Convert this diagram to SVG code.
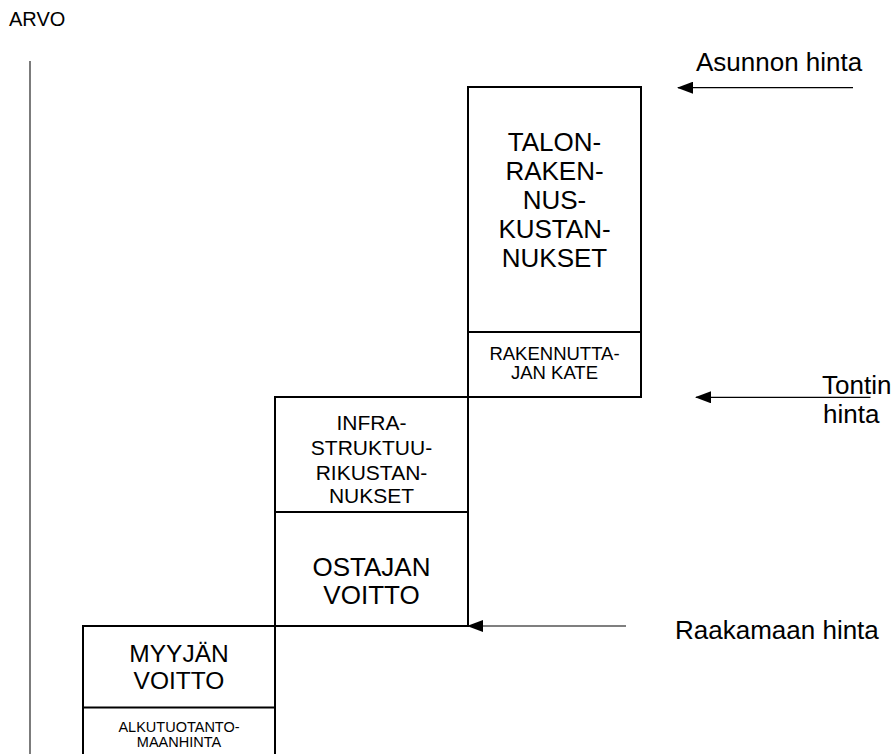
<svg xmlns="http://www.w3.org/2000/svg" width="896" height="754" viewBox="0 0 896 754">
<defs>
<style>
.box{fill:#fff;stroke:#000;stroke-width:2}
.div{stroke:#000;stroke-width:2}
.t{font-family:"Liberation Sans",Arial,sans-serif;fill:#000}
.c{text-anchor:middle}
.arr{stroke:#000;stroke-width:1.2;fill:none}
</style>
<marker id="ah" viewBox="0 0 16 12" refX="15" refY="6" markerWidth="16" markerHeight="12" markerUnits="userSpaceOnUse" orient="auto">
<path d="M0,0 L16,6 L0,12 Z" fill="#000"/>
</marker>
</defs>
<rect width="896" height="754" fill="#fff"/>
<g id="axis">
<line x1="30" y1="61" x2="30" y2="754" stroke="#444" stroke-width="1.4"/>
<text class="t" x="9" y="26" font-size="20">ARVO</text>
</g>
<g id="box-talo">
<rect class="box" x="468" y="87" width="173" height="310"/>
<line class="div" x1="468" y1="332" x2="641" y2="332"/>
<text class="t c" font-size="26"><tspan x="554.5" y="151">TALON-</tspan><tspan x="554.5" y="180">RAKEN-</tspan><tspan x="554.5" y="209">NUS-</tspan><tspan x="554.5" y="238">KUSTAN-</tspan><tspan x="554.5" y="267">NUKSET</tspan></text>
<text class="t c" font-size="18.5"><tspan x="554.5" y="359.5">RAKENNUTTA-</tspan><tspan x="554.5" y="378.7">JAN KATE</tspan></text>
</g>
<g id="box-infra">
<rect class="box" x="275" y="397" width="193" height="229"/>
<line class="div" x1="275" y1="512" x2="468" y2="512"/>
<text class="t c" font-size="21"><tspan x="371.5" y="429.5">INFRA-</tspan><tspan x="371.5" y="454.5">STRUKTUU-</tspan><tspan x="371.5" y="479.5">RIKUSTAN-</tspan><tspan x="371.5" y="503">NUKSET</tspan></text>
<text class="t c" font-size="26"><tspan x="371.5" y="576">OSTAJAN</tspan><tspan x="371.5" y="603.5">VOITTO</tspan></text>
</g>
<g id="box-myyja">
<rect class="box" x="83" y="626" width="192" height="140"/>
<line class="div" x1="83" y1="707.5" x2="275" y2="707.5"/>
<text class="t c" font-size="24.5"><tspan x="179" y="662">MYYJÄN</tspan><tspan x="179" y="688.5">VOITTO</tspan></text>
<text class="t c" font-size="14.5"><tspan x="179" y="731.7">ALKUTUOTANTO-</tspan><tspan x="179" y="747.3">MAANHINTA</tspan></text>
</g>
<g id="connectors">
<line class="arr" x1="853" y1="87.7" x2="678" y2="87.7" marker-end="url(#ah)"/>
<line class="arr" x1="870.5" y1="397.3" x2="696" y2="397.3" marker-end="url(#ah)"/>
<line class="arr" x1="626" y1="626" x2="468" y2="626" marker-end="url(#ah)"/>
</g>
<g id="labels">
<text class="t" x="696" y="70.7" font-size="26">Asunnon hinta</text>
<text class="t" x="822" y="394" font-size="26">Tontin</text>
<text class="t" x="823" y="423" font-size="26">hinta</text>
<text class="t" x="675" y="639" font-size="26">Raakamaan hinta</text>
</g>
</svg>
